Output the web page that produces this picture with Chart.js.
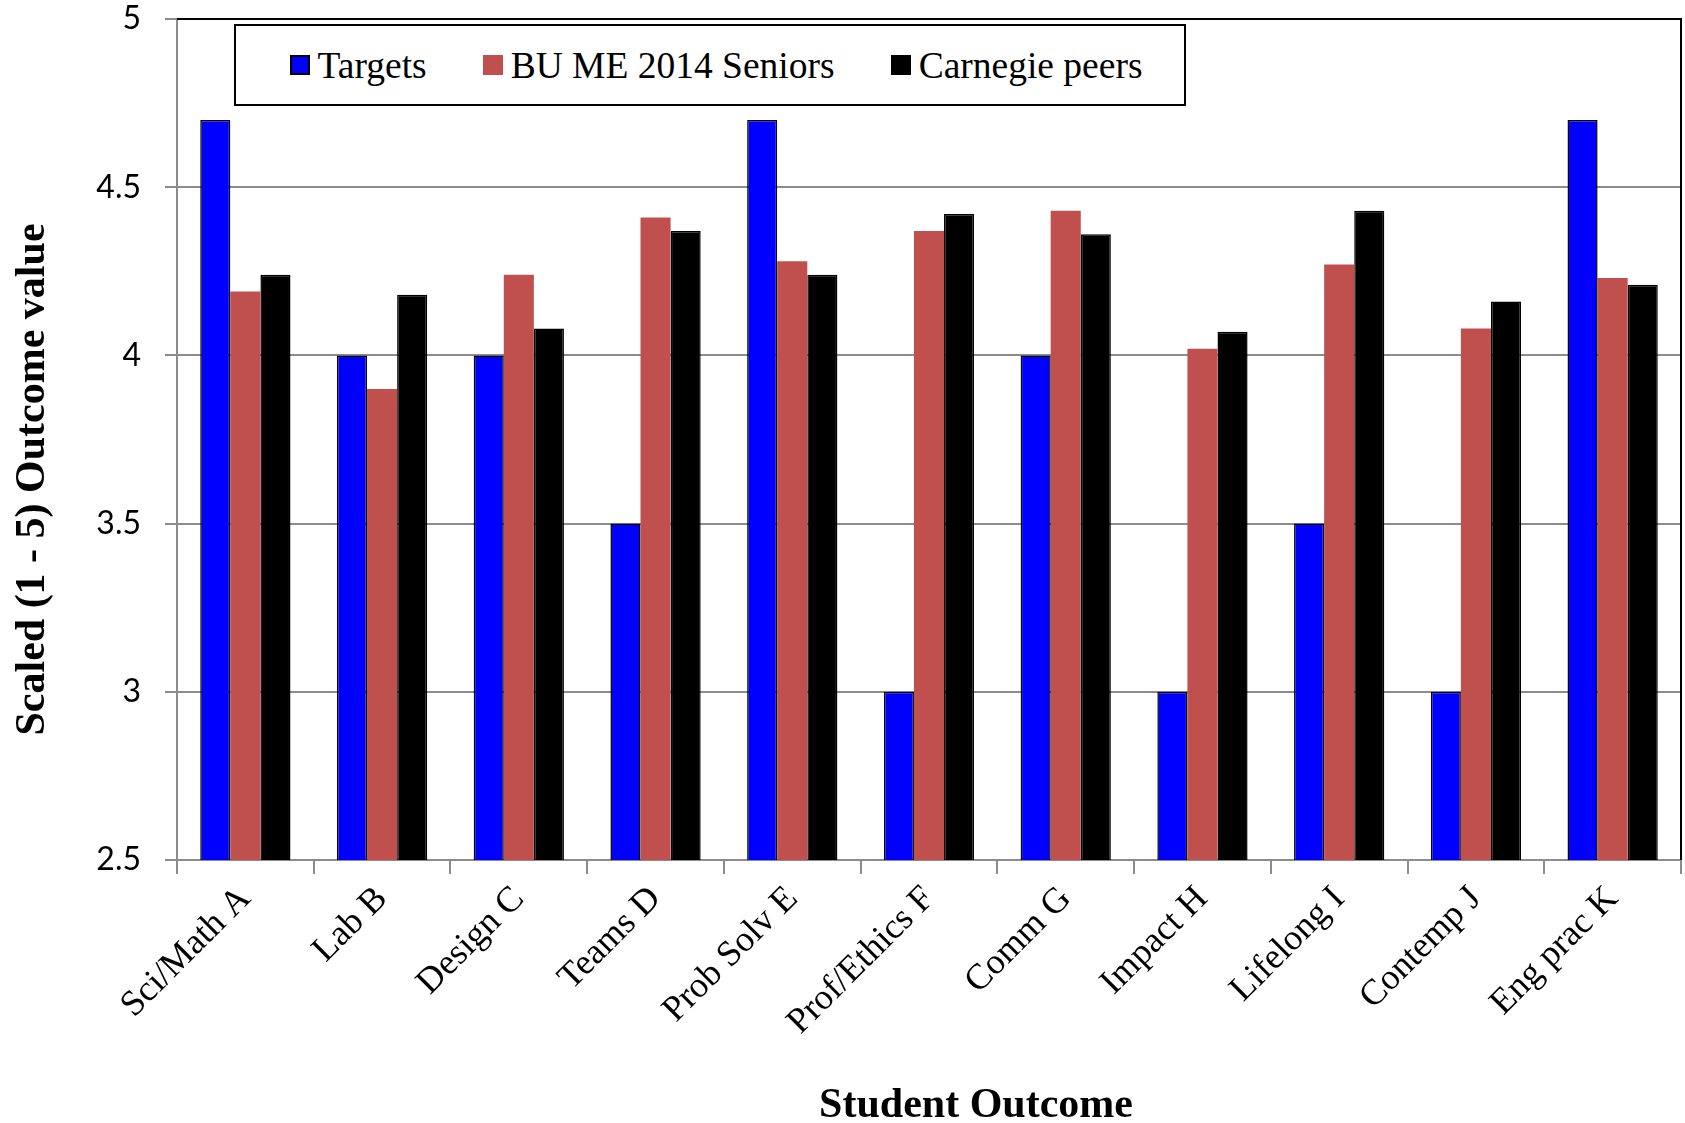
<!DOCTYPE html>
<html>
<head>
<meta charset="utf-8">
<title>Student Outcome</title>
<script src="https://cdn.jsdelivr.net/npm/chart.js@4.4.1/dist/chart.umd.min.js"></script>
<style>
    body { margin: 0; background: #fff; }
    #wrap { position: relative; width: 1685px; height: 1123px; }
    #legend {
        position: absolute; left: 234px; top: 24px; width: 936px; height: 78px; padding-left: 12px;
        border: 2px solid #000; background: #fff;
        display: flex; align-items: center; justify-content: center; gap: 56px;
        font-family: "Liberation Serif", "Times New Roman", serif; font-size: 37.5px; color: #000;
    }
    .item { display: flex; align-items: center; gap: 8px; }
    .swatch { width: 20px; height: 20px; box-sizing: border-box; }
</style>
</head>
<body>
<div id="wrap">
    <canvas id="chart"></canvas>
    <div id="legend"></div>
</div>
<script>
// Datos
const categories = ['Sci/Math A', 'Lab B', 'Design C', 'Teams D', 'Prob Solv E', 'Prof/Ethics F',
    'Comm G', 'Impact H', 'Lifelong I', 'Contemp J', 'Eng prac K'];
const targets = [4.7, 4.0, 4.0, 3.5, 4.7, 3.0, 4.0, 3.0, 3.5, 3.0, 4.7];
const buSeniors = [4.19, 3.90, 4.24, 4.41, 4.28, 4.37, 4.43, 4.02, 4.27, 4.08, 4.23];
const carnegiePeers = [4.24, 4.18, 4.08, 4.37, 4.24, 4.42, 4.36, 4.07, 4.43, 4.16, 4.21];
const seriesNames = ['Targets', 'BU ME 2014 Seniors', 'Carnegie peers'];
const yTicks = [2.5, 3, 3.5, 4, 4.5, 5];
const xTitle = 'Student Outcome';
const yTitle = 'Scaled (1 - 5) Outcome value';

const serif = '"Liberation Serif", "Times New Roman", serif';
const gridGray = '#8c8c8c';

const datasets = [
    { label: seriesNames[0], data: targets, backgroundColor: '#0000FF', borderColor: '#000', borderWidth: 1.5 },
    { label: seriesNames[1], data: buSeniors, backgroundColor: '#C0504D', borderColor: '#C0504D', borderWidth: 0 },
    { label: seriesNames[2], data: carnegiePeers, backgroundColor: '#000000', borderColor: '#000', borderWidth: 1.5 }
];

// Borde negro arriba y a la derecha del area de trazado
const frameLines = {
    id: 'frameLines',
    afterDraw(chart) {
        const { ctx, chartArea: a } = chart;
        ctx.save();
        ctx.strokeStyle = '#000';
        ctx.lineWidth = 2;
        ctx.beginPath();
        ctx.moveTo(a.left, a.top);
        ctx.lineTo(a.right, a.top);
        ctx.lineTo(a.right, a.bottom);
        ctx.stroke();
        ctx.restore();
    }
};

// Titulos de ejes (en el original no estan centrados sobre el area de trazado)
const axisTitles = {
    id: 'axisTitles',
    afterDraw(chart) {
        const { ctx, chartArea: a } = chart;
        ctx.save();
        ctx.fillStyle = '#000';
        ctx.font = 'bold 42px ' + serif;
        ctx.textAlign = 'center';
        ctx.textBaseline = 'middle';
        ctx.fillText(xTitle, (a.left + a.right) / 2 + 47, chart.height - 17);
        ctx.translate(33, (a.top + a.bottom) / 2 + 40);
        ctx.rotate(-Math.PI / 2);
        ctx.fillText(yTitle, 0, 0);
        ctx.restore();
    }
};

const canvas = document.getElementById('chart');
new Chart(canvas, {
    type: 'bar',
    data: { labels: categories, datasets: datasets },
    options: {
        responsive: true,
        maintainAspectRatio: false,
        animation: false,
        layout: { padding: { top: 0, right: 4, bottom: 0, left: 0 } },
        datasets: { bar: { categoryPercentage: 0.66, barPercentage: 1.0, borderSkipped: 'bottom' } },
        plugins: { legend: { display: false }, tooltip: { enabled: false } },
        scales: {
            x: {
                grid: { offset: true, drawOnChartArea: false, color: gridGray, lineWidth: 2, tickLength: 14 },
                border: { color: gridGray, width: 2 },
                ticks: {
                    color: '#000', minRotation: 45, maxRotation: 45, padding: 4,
                    font: { family: serif, size: 36 }
                },
                afterFit(scale) { scale.height = 263; }
            },
            y: {
                min: yTicks[0],
                max: yTicks[yTicks.length - 1],
                grid: { color: gridGray, lineWidth: 2, tickLength: 12 },
                border: { color: gridGray, width: 2 },
                ticks: {
                    stepSize: 0.5, color: '#000', padding: 24,
                    font: { family: 'Lato, "Open Sans", sans-serif', size: 32 },
                    callback: v => String(v)
                },
                afterFit(scale) {
                    scale.width = 177;
                    scale.paddingTop = 19;
                }
            }
        }
    },
    plugins: [frameLines, axisTitles]
});

// Leyenda en HTML con recuadro
const legend = document.getElementById('legend');
legend.innerHTML = datasets.map(ds => `
    <div class="item">
        <div class="swatch" style="background:${ds.backgroundColor};border:${ds.borderWidth ? '2px solid #000' : 'none'}"></div>
        <span>${ds.label}</span>
    </div>`).join('');
</script>
</body>
</html>
